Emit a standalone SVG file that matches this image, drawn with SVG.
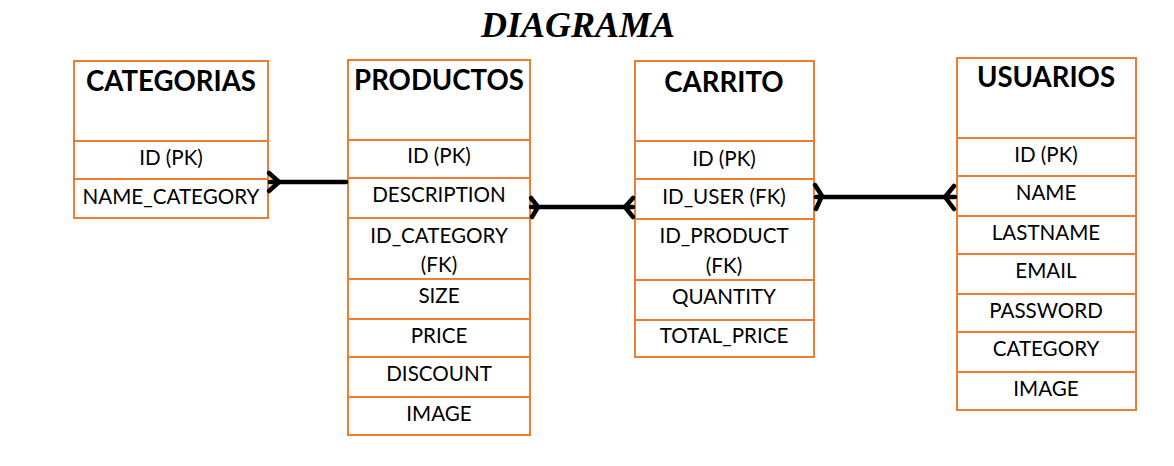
<svg xmlns="http://www.w3.org/2000/svg" width="1174" height="466" viewBox="0 0 1174 466">
<style>
.box{fill:#fff;stroke:#ED7D31;stroke-width:2}
.div{stroke:#ED7D31;stroke-width:2}
.t{font-family:Lato,"Liberation Sans",sans-serif;font-weight:bold;font-size:27.6px;fill:#000;text-anchor:middle}
.f{font-family:Lato,"Liberation Sans",sans-serif;font-size:20.6px;fill:#000;text-anchor:middle}
.c{stroke:#000;stroke-width:4.5;fill:none;stroke-linecap:round;stroke-linejoin:round}
.h{font-family:"Liberation Serif",serif;font-weight:bold;font-style:italic;font-size:36px;fill:#000;text-anchor:middle}
</style>
<rect width="1174" height="466" fill="#fff"/>
<text class="h" x="578" y="37">DIAGRAMA</text>

<g id="categorias">
<rect class="box" x="74" y="61" width="194" height="157"/>
<line class="div" x1="74" y1="141" x2="268" y2="141"/>
<line class="div" x1="74" y1="179" x2="268" y2="179"/>
<text class="t" x="171" y="91">CATEGORIAS</text>
<text class="f" x="171" y="165">ID (PK)</text>
<text class="f" x="171" y="204">NAME_CATEGORY</text>
</g>

<g id="productos">
<rect class="box" x="348" y="60" width="182" height="375"/>
<line class="div" x1="348" y1="140" x2="530" y2="140"/>
<line class="div" x1="348" y1="178" x2="530" y2="178"/>
<line class="div" x1="348" y1="218" x2="530" y2="218"/>
<line class="div" x1="348" y1="279" x2="530" y2="279"/>
<line class="div" x1="348" y1="319" x2="530" y2="319"/>
<line class="div" x1="348" y1="357" x2="530" y2="357"/>
<line class="div" x1="348" y1="397" x2="530" y2="397"/>
<text class="t" x="439" y="90">PRODUCTOS</text>
<text class="f" x="439" y="163">ID (PK)</text>
<text class="f" x="439" y="202">DESCRIPTION</text>
<text class="f" x="439" y="243">ID_CATEGORY</text>
<text class="f" x="439" y="272">(FK)</text>
<text class="f" x="439" y="303">SIZE</text>
<text class="f" x="439" y="343">PRICE</text>
<text class="f" x="439" y="381">DISCOUNT</text>
<text class="f" x="439" y="421">IMAGE</text>
</g>

<g id="carrito">
<rect class="box" x="635" y="61" width="179" height="296"/>
<line class="div" x1="635" y1="141" x2="814" y2="141"/>
<line class="div" x1="635" y1="179" x2="814" y2="179"/>
<line class="div" x1="635" y1="219" x2="814" y2="219"/>
<line class="div" x1="635" y1="280" x2="814" y2="280"/>
<line class="div" x1="635" y1="320" x2="814" y2="320"/>
<text class="t" x="724" y="92">CARRITO</text>
<text class="f" x="724" y="166">ID (PK)</text>
<text class="f" x="724" y="204">ID_USER (FK)</text>
<text class="f" x="724" y="243">ID_PRODUCT</text>
<text class="f" x="724" y="273">(FK)</text>
<text class="f" x="724" y="304">QUANTITY</text>
<text class="f" x="724" y="343">TOTAL_PRICE</text>
</g>

<g id="usuarios">
<rect class="box" x="957" y="58" width="179" height="352"/>
<line class="div" x1="957" y1="138" x2="1136" y2="138"/>
<line class="div" x1="957" y1="176" x2="1136" y2="176"/>
<line class="div" x1="957" y1="216" x2="1136" y2="216"/>
<line class="div" x1="957" y1="254" x2="1136" y2="254"/>
<line class="div" x1="957" y1="294" x2="1136" y2="294"/>
<line class="div" x1="957" y1="332" x2="1136" y2="332"/>
<line class="div" x1="957" y1="372" x2="1136" y2="372"/>
<text class="t" x="1046" y="87">USUARIOS</text>
<text class="f" x="1046" y="162">ID (PK)</text>
<text class="f" x="1046" y="200">NAME</text>
<text class="f" x="1046" y="240">LASTNAME</text>
<text class="f" x="1046" y="278">EMAIL</text>
<text class="f" x="1046" y="318">PASSWORD</text>
<text class="f" x="1046" y="356">CATEGORY</text>
<text class="f" x="1046" y="396">IMAGE</text>
</g>

<g id="connectors">
<line class="c" x1="270" y1="182" x2="346" y2="182"/>
<polyline class="c" points="269,173 279,182 269,191"/>
<line class="c" x1="531" y1="207" x2="633" y2="207"/>
<polyline class="c" points="531,198 538,207 532,217"/>
<polyline class="c" points="633,198 625,207 633,217"/>
<line class="c" x1="816" y1="197" x2="955" y2="197"/>
<polyline class="c" points="815,185 822,196 816,209"/>
<polyline class="c" points="954,186 945,197 954,209"/>
</g>
</svg>
